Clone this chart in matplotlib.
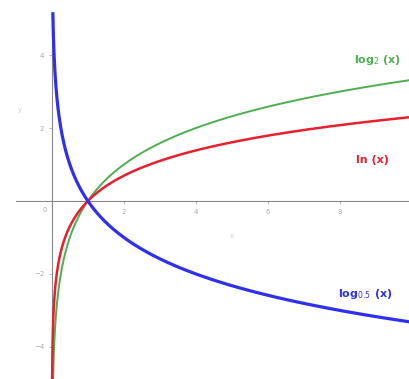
import numpy as np
import matplotlib.pyplot as plt

# curves: label, log base, colour, line width
names = ['log$_2$ (x)', 'ln (x)', 'log$_{0.5}$ (x)']
bases = [2.0, np.e, 0.5]
colors = ['#4caf50', '#e8202e', '#2f2ff0']
widths = [1.4, 1.8, 2.3]
label_pos = [(9.05, 3.86), (8.9, 1.12), (8.7, -2.55)]

xticks = [2, 4, 6, 8]
yticks = [-4, -2, 2, 4]

fig = plt.figure(figsize=(4.09, 3.79), dpi=100)
ax = fig.add_axes([0, 0, 1, 1])

x = np.linspace(0.001, 10, 4000)
for name, b, c, w, (lx, ly) in zip(names, bases, colors, widths, label_pos):
    y = np.log(x) / np.log(b)
    y = np.where(y > 5.15, np.nan, y)
    ax.plot(x, y, color=c, lw=w, zorder=3)
    ax.text(lx, ly, name, color=c, fontsize=8, fontweight='bold', ha='center', va='center')

ax.set_xlim(-1.44, 9.92)
ax.set_ylim(-4.88, 5.51)

for s in ['top', 'right']:
    ax.spines[s].set_visible(False)
ax.spines['left'].set_position(('data', 0))
ax.spines['bottom'].set_position(('data', 0))
ax.spines['left'].set_bounds(-4.88, 5.15)
ax.spines['bottom'].set_bounds(-1.0, 9.92)
for s in ['left', 'bottom']:
    ax.spines[s].set_color('#888888')
    ax.spines[s].set_linewidth(0.8)

ax.set_xticks(xticks)
ax.set_yticks(yticks)
ax.tick_params(colors='#aaaaaa', labelsize=5, length=2, width=0.6, direction='out')
ax.text(-0.2, -0.25, '0', color='#aaaaaa', fontsize=5, ha='center', va='center')
ax.text(-0.9, 2.5, 'y', color='#cccccc', fontsize=5, ha='center', va='center')
ax.text(5.0, -0.95, 'x', color='#cccccc', fontsize=5, ha='center', va='center')

fig.savefig('out.png', dpi=100)
